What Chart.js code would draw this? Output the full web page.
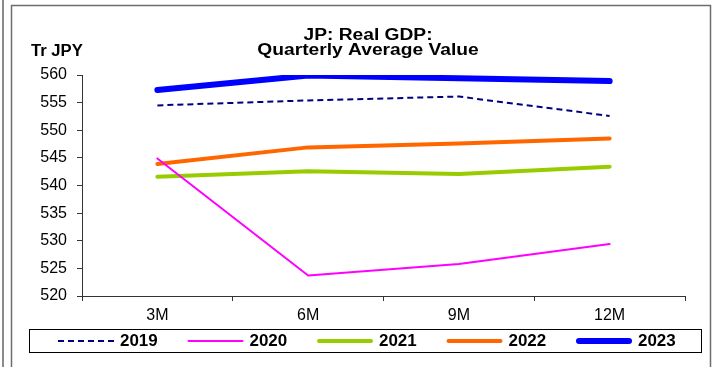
<!DOCTYPE html>
<html>
<head>
<meta charset="utf-8">
<script src="https://cdn.jsdelivr.net/npm/chart.js@4/dist/chart.umd.min.js"></script>
<style>
  body { margin: 0; background: #fff; }
  canvas { display: block; }
</style>
</head>
<body>
<canvas id="gdp" width="712" height="367"></canvas>
<script>
// --- DATA ---
const periods = ['3M', '6M', '9M', '12M'];
const years = ['2019', '2020', '2021', '2022', '2023'];
const gdp2019 = [554.5, 555.4, 556.1, 552.6];
const gdp2020 = [544.9, 523.7, 525.8, 529.4];
const gdp2021 = [541.6, 542.6, 542.1, 543.4];
const gdp2022 = [543.9, 546.9, 547.6, 548.5];
const gdp2023 = [557.3, 559.9, 559.4, 558.9];
const yTicks = [520, 525, 530, 535, 540, 545, 550, 555, 560];

const titleLines = ['JP: Real GDP:', 'Quarterly Average Value'];
const unitLabel = 'Tr JPY';

// --- SERIES STYLE ---
const seriesValues = [gdp2019, gdp2020, gdp2021, gdp2022, gdp2023];
const seriesColors = ['#000080', '#ff00ff', '#99cc00', '#ff6600', '#0000ff'];
const seriesWidths = [2, 2, 4, 4, 6];

const datasets = years.map((y, i) => ({
    label: y,
    data: seriesValues[i],
    borderColor: seriesColors[i],
    backgroundColor: seriesColors[i],
    borderWidth: seriesWidths[i],
    borderDash: i === 0 ? [6, 4] : [],
    borderCapStyle: i === 0 ? 'butt' : 'round',
    borderJoinStyle: 'round',
    pointRadius: 0,
    tension: 0,
    fill: false
}));

// frame, title, unit label and the boxed legend
const decorations = {
    id: 'decorations',
    beforeDraw(chart) {
        const ctx = chart.ctx;
        ctx.save();
        ctx.fillStyle = '#fff';
        ctx.fillRect(0, 0, chart.width, chart.height);
        ctx.strokeStyle = '#8a8a8a';
        ctx.lineWidth = 2;
        ctx.beginPath();
        ctx.moveTo(3, 0); ctx.lineTo(3, chart.height);
        ctx.stroke();
        ctx.strokeStyle = '#6e6e6e';
        ctx.lineWidth = 1.5;
        ctx.beginPath();
        ctx.moveTo(11.5, chart.height); ctx.lineTo(11.5, 5.5);
        ctx.lineTo(710.5, 5.5); ctx.lineTo(710.5, chart.height);
        ctx.stroke();
        ctx.restore();
    },
    afterDraw(chart) {
        const ctx = chart.ctx;
        ctx.save();
        ctx.fillStyle = '#000';
        ctx.textAlign = 'center';
        ctx.textBaseline = 'alphabetic';
        ctx.font = 'bold 16px "Liberation Sans", Arial, sans-serif';
        titleLines.forEach((t, i) => {
            ctx.save();
            ctx.translate(368, 39.5 + i * 15.5);
            ctx.scale(1.2, 1.02);
            ctx.fillText(t, 0, 0);
            ctx.restore();
        });
        ctx.textAlign = 'left';
        ctx.save();
        ctx.translate(31, 56);
        ctx.scale(1.04, 1);
        ctx.fillText(unitLabel, 0, 0);
        ctx.restore();

        // legend box
        ctx.strokeStyle = '#000';
        ctx.lineWidth = 1;
        ctx.strokeRect(29.5, 329.5, 672, 23);
        const cy = 341;
        chart.data.datasets.forEach((ds, i) => {
            const x0 = 58 + i * 129.5;
            ctx.save();
            ctx.strokeStyle = ds.borderColor;
            ctx.lineWidth = ds.borderWidth;
            ctx.lineCap = ds.borderCapStyle;
            ctx.setLineDash(ds.borderDash);
            const pad = ds.borderCapStyle === 'round' ? ds.borderWidth / 2 : 0;
            ctx.beginPath();
            ctx.moveTo(x0 + pad, cy);
            ctx.lineTo(x0 + 56 - pad, cy);
            ctx.stroke();
            ctx.restore();
            ctx.fillStyle = '#000';
            ctx.textBaseline = 'middle';
            ctx.font = 'bold 16px "Liberation Sans", Arial, sans-serif';
            ctx.save();
            ctx.translate(x0 + 62, cy + 1);
            ctx.scale(1.06, 1);
            ctx.fillText(ds.label, 0, 0);
            ctx.restore();
        });
        ctx.restore();
    }
};

const tickFont = { family: '"Liberation Sans", Arial, sans-serif', size: 16 };

new Chart(document.getElementById('gdp'), {
    type: 'line',
    data: { labels: periods, datasets: datasets },
    options: {
        responsive: false,
        devicePixelRatio: 1,
        animation: false,
        layout: { padding: { left: 30, top: 75, right: 27, bottom: 0 } },
        plugins: {
            legend: { display: false },
            title: { display: false },
            tooltip: { enabled: false }
        },
        scales: {
            x: {
                offset: true,
                grid: { offset: true, drawOnChartArea: false, tickLength: 5, color: '#333' },
                border: { color: '#333', width: 1 },
                ticks: { font: tickFont, color: '#000', padding: 5 },
                afterFit: s => { s.height = 71; }
            },
            y: {
                min: yTicks[0],
                max: yTicks[yTicks.length - 1],
                afterBuildTicks: s => { s.ticks = yTicks.map(v => ({ value: v })); },
                grid: { drawOnChartArea: false, tickLength: 5, color: '#333' },
                border: { color: '#333', width: 1 },
                ticks: { font: tickFont, color: '#000', padding: 10 },
                afterFit: s => { s.width = 52; }
            }
        }
    },
    plugins: [decorations]
});
</script>
</body>
</html>
